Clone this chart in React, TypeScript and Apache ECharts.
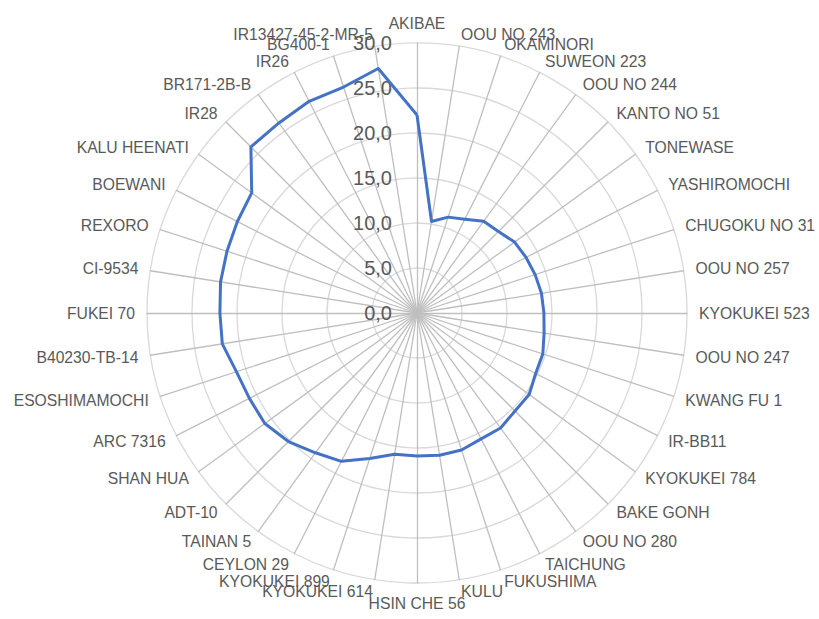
import React, { useEffect, useRef } from "react";
import * as echarts from "echarts";

// Categories in clockwise order starting from the top (as in the reference)
const categories: string[] = [
  "AKIBAE", "OOU NO 243", "OKAMINORI", "SUWEON 223", "OOU NO 244", "KANTO NO 51",
  "TONEWASE", "YASHIROMOCHI", "CHUGOKU NO 31", "OOU NO 257", "KYOKUKEI 523",
  "OOU NO 247", "KWANG FU 1", "IR-BB11", "KYOKUKEI 784", "BAKE GONH", "OOU NO 280",
  "TAICHUNG", "FUKUSHIMA", "KULU", "HSIN CHE 56", "KYOKUKEI 614", "KYOKUKEI 899",
  "CEYLON 29", "TAINAN 5", "ADT-10", "SHAN HUA", "ARC 7316", "ESOSHIMAMOCHI",
  "B40230-TB-14", "FUKEI 70", "CI-9534", "REXORO", "BOEWANI", "KALU HEENATI",
  "IR28", "BR171-2B-B", "IR26", "BG400-1", "IR13427-45-2-MR-5",
];

const values: number[] = [
  22.0, 10.3, 11.2, 11.7, 12.6, 12.8,
  13.4, 13.6, 13.8, 14.0, 14.1,
  14.3, 14.7, 14.8, 15.4, 15.4, 15.8,
  15.7, 16.0, 16.0, 15.9, 15.9, 17.0,
  18.5, 19.2, 20.2, 20.9, 20.9, 21.1,
  21.9, 21.9, 22.1, 22.2, 22.4, 22.7,
  26.1, 26.1, 26.4, 26.4, 27.5,
];

const axisMin = 0;
const axisMax = 30;
const axisSplits = 6;

export default function App() {
  const ref = useRef<HTMLDivElement>(null);

  useEffect(() => {
    if (!ref.current) return;
    const chart = echarts.init(ref.current, undefined, { renderer: "svg" });

    // ECharts places radar indicators counter-clockwise; reorder to get clockwise.
    const order = [0, ...categories.map((_, i) => i).slice(1).reverse()];

    const indicator = order.map((i, k) => ({
      name: categories[i],
      min: axisMin,
      max: axisMax,
      axisLabel: k === 0 ? { show: true } : { show: false },
    }));

    chart.setOption({
      animation: false,
      backgroundColor: "#ffffff",
      radar: {
        center: [417, 313],
        radius: 270,
        startAngle: 90,
        splitNumber: axisSplits,
        shape: "circle",
        nameGap: 12,
        axisName: {
          color: "#595959",
          fontSize: 15.7,
          fontFamily: "Liberation Sans",
        },
        axisLine: { show: true, lineStyle: { color: "#BFBFBF", width: 1.3 } },
        splitLine: { show: true, lineStyle: { color: "#D9D9D9", width: 1.3 } },
        splitArea: { show: false },
        axisTick: { show: false },
        axisLabel: {
          show: false,
          color: "#595959",
          fontSize: 20,
          fontFamily: "Liberation Sans",
          margin: 25,
          formatter: (v: number) => v.toFixed(1).replace(".", ","),
        },
        indicator,
      },
      series: [
        {
          type: "radar",
          symbol: "none",
          lineStyle: { color: "#4472C4", width: 3 },
          data: [{ value: order.map((i) => values[i]) }],
        },
      ],
    });

    return () => chart.dispose();
  }, []);

  return (
    <div
      ref={ref}
      style={{ position: "fixed", left: 0, top: 0, width: 819, height: 619 }}
    />
  );
}
